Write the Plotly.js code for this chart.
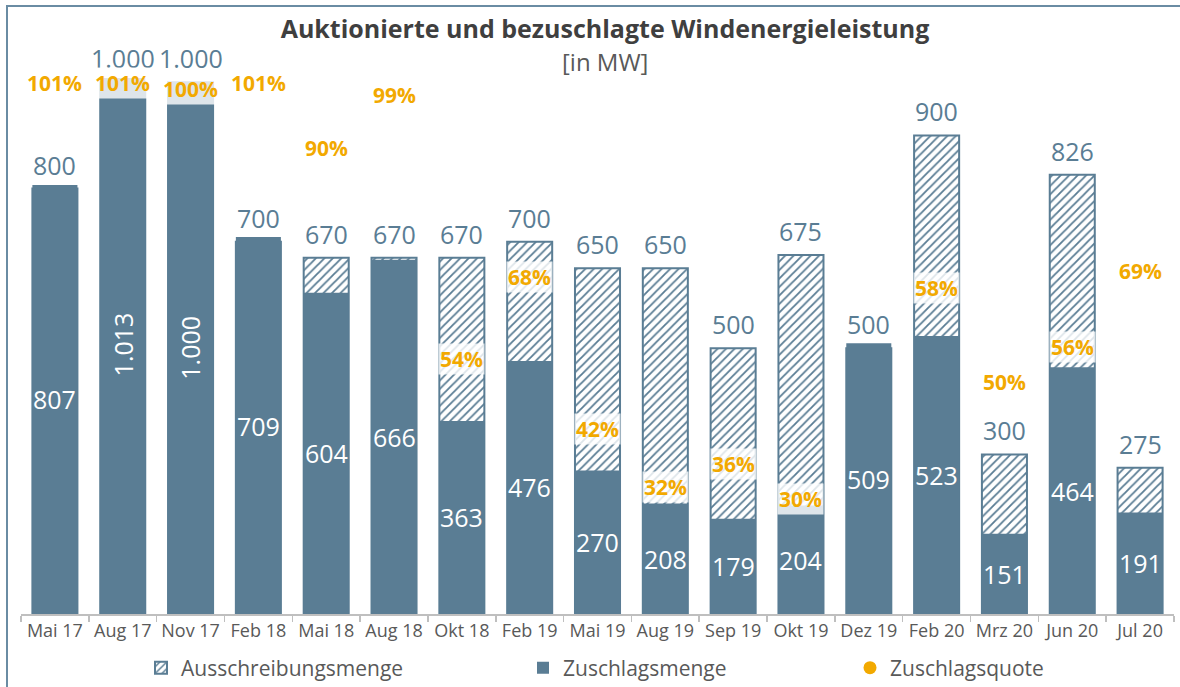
<!DOCTYPE html>
<html>
<head>
<meta charset="utf-8">
<script src="https://cdn.plot.ly/plotly-3.0.1.min.js"></script>
<style>
  html, body { margin: 0; padding: 0; background: #ffffff; }
  #wrap { position: relative; width: 1180px; height: 687px; overflow: hidden; }
  #plot { position: absolute; left: 0; top: 0; width: 1180px; height: 687px; }
  #frame { position: absolute; left: 6px; top: 5px; width: 1200px; height: 720px;
           border-left: 2px solid #6a8ca3; border-top: 2px solid #6a8ca3; pointer-events: none; }
</style>
</head>
<body>
<div id="wrap">
  <div id="plot"></div>
  <div id="frame"></div>
</div>
<script>
// ---- data ----
const categories = ["Mai 17","Aug 17","Nov 17","Feb 18","Mai 18","Aug 18","Okt 18","Feb 19","Mai 19",
                    "Aug 19","Sep 19","Okt 19","Dez 19","Feb 20","Mrz 20","Jun 20","Jul 20"];
const ausschreibungsmenge = [800,1000,1000,700,670,670,670,700,650,650,500,675,500,900,300,826,275];
const zuschlagsmenge      = [807,1013,1000,709,604,666,363,476,270,208,179,204,509,523,151,464,191];
const zuschlagsquote      = [101,101,100,101,90,99,54,68,42,32,36,30,102,58,50,56,69];

// ---- styles ----
const BLUE = "#5a7d94";
const ORANGE = "#f2a900";
const FONT = "Open Sans, sans-serif";
// label nudges (px) for quote labels that were moved to avoid overlaps
const quoteLabelShift = {"Dez 19": -80, "Feb 20": 47};

function fmtDE(v) {
  return String(Math.round(v)).replace(/\B(?=(\d{3})+(?!\d))/g, ".");
}

const traces = [
  {
    type: "bar", name: "Ausschreibungsmenge", x: categories, y: ausschreibungsmenge,
    marker: { color: "#ffffff", line: { color: BLUE, width: 2 },
              pattern: { shape: "/", fgcolor: BLUE, bgcolor: "#ffffff", size: 6, solidity: 0.3 } },
    hoverinfo: "skip", legend: "legend"
  },
  {
    type: "bar", name: "Zuschlagsmenge", x: categories, y: zuschlagsmenge,
    marker: { color: BLUE, line: { color: BLUE, width: 0 } },
    hoverinfo: "skip", legend: "legend2"
  },
  {
    type: "scatter", mode: "markers", name: "Zuschlagsquote", x: [categories[0]], y: [null],
    yaxis: "y2", marker: { color: ORANGE, size: 13 }, hoverinfo: "skip", legend: "legend3"
  }
];

const annotations = [];
categories.forEach((c, i) => {
  // offered amount label above the bar
  annotations.push({
    x: c, y: ausschreibungsmenge[i], xref: "x", yref: "y", yanchor: "bottom", yshift: 5,
    text: fmtDE(ausschreibungsmenge[i]), showarrow: false,
    font: { family: FONT, size: 25, color: BLUE }
  });
  // awarded amount label centered inside bar
  const z = zuschlagsmenge[i];
  annotations.push({
    x: c, y: z / 2, xref: "x", yref: "y", yanchor: "middle", xanchor: "center",
    text: fmtDE(z), showarrow: false, textangle: z >= 1000 ? -90 : 0,
    font: { family: FONT, size: 25, color: "#ffffff" }
  });
  // quote label
  annotations.push({
    x: c, y: zuschlagsquote[i], xref: "x", yref: "y2", yanchor: "middle",
    yshift: quoteLabelShift[c] || 0,
    text: "<b>" + zuschlagsquote[i] + "%</b>", showarrow: false,
    bgcolor: "rgba(255,255,255,0.8)", borderpad: 1,
    font: { family: FONT, size: 21, color: ORANGE }
  });
});

annotations.push({
  xref: "paper", yref: "paper", x: 0.5065, y: 1.0299, xanchor: "center", yanchor: "middle",
  text: "[in MW]", showarrow: false, font: { family: FONT, size: 24, color: "#595959" }
});

const legendBase = { orientation: "h", yanchor: "middle", xanchor: "left",
                     xref: "container", yref: "container", y: 1 - 668 / 687,
                     font: { family: FONT, size: 21, color: "#595959" }, bgcolor: "rgba(0,0,0,0)" };

const layout = {
  width: 1180, height: 687,
  margin: { l: 21, r: 6, t: 78, b: 73, autoexpand: false },
  paper_bgcolor: "#ffffff", plot_bgcolor: "#ffffff",
  font: { family: FONT, color: "#595959" },
  title: {
    text: "<b>Auktionierte und bezuschlagte Windenergieleistung</b>",
    xref: "container", yref: "container", x: 605 / 1180, xanchor: "center",
    y: 1 - 29 / 687, yanchor: "middle",
    font: { family: FONT, size: 25, color: "#3f3f3f" }
  },
  barmode: "overlay", bargap: 0.336,
  xaxis: {
    type: "category", range: [-0.5, categories.length - 0.5], autorange: false,
    showline: true, linecolor: "#bfbfbf", linewidth: 1.5,
    ticks: "outside", tickson: "boundaries", ticklen: 6, tickcolor: "#bfbfbf", tickwidth: 1.5,
    tickangle: 0, automargin: false,
    tickfont: { family: FONT, size: 18, color: "#595959" }, showgrid: false, zeroline: false,
    fixedrange: true
  },
  yaxis: { range: [0, 1008], visible: false, showgrid: false, zeroline: false, fixedrange: true },
  yaxis2: { range: [10.4, 101.9], overlaying: "y", visible: false, showgrid: false, zeroline: false, fixedrange: true },
  legend:  Object.assign({}, legendBase, { x: 141 / 1180 }),
  legend2: Object.assign({}, legendBase, { x: 523 / 1180 }),
  legend3: Object.assign({}, legendBase, { x: 850 / 1180 }),
  annotations: annotations,
  showlegend: true
};

Plotly.newPlot("plot", traces, layout, { displayModeBar: false, staticPlot: true });
</script>
</body>
</html>
